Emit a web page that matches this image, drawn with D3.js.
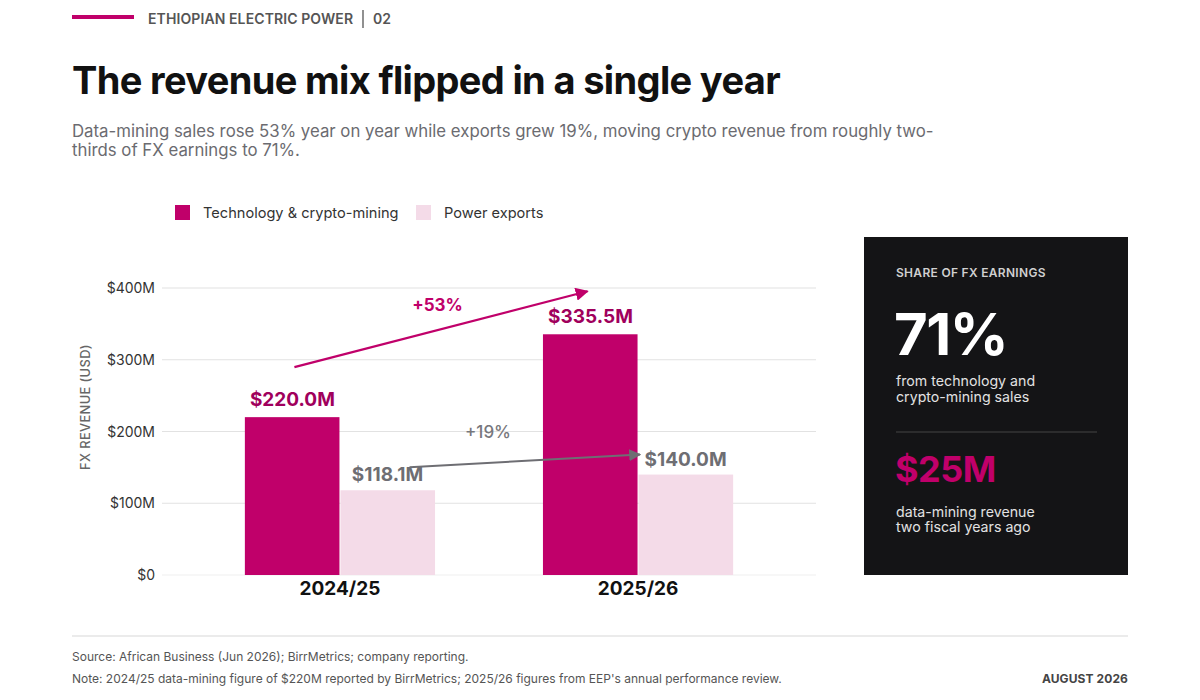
<!DOCTYPE html>
<html>
<head>
<meta charset="utf-8">
<script src="https://cdn.jsdelivr.net/npm/d3@7"></script>
<style>
    body { margin: 0; background: #fff; }
    svg { font-family: Inter, "Noto Sans", sans-serif; }
</style>
</head>
<body>
<script>
// chart data
var years = ["2024/25", "2025/26"];
var seriesNames = ["Technology & crypto-mining", "Power exports"];
var cryptoValues = [220.0, 335.5];
var exportValues = [118.1, 140.0];
var growthLabels = ["+53%", "+19%"];
var yTicks = [0, 100, 200, 300, 400];

var width = 1200;
var height = 700;
var magenta = "#c0006a";
var pink = "#f4dbe8";
var grey = "#6e6e73";

var svg = d3.select("body")
    .append("svg")
    .attr("width", width)
    .attr("height", height);

// header
svg.append("rect").attr("x", 72).attr("y", 15).attr("width", 62).attr("height", 4).attr("fill", magenta);
svg.append("text")
    .attr("x", 148).attr("y", 24)
    .attr("font-size", 14).attr("font-weight", 600).attr("fill", "#555")
    .attr("letter-spacing", 0.1)
    .text("ETHIOPIAN ELECTRIC POWER");
svg.append("line").attr("x1", 363).attr("x2", 363).attr("y1", 10).attr("y2", 28)
    .attr("stroke", "#555").attr("stroke-width", 1.3);
svg.append("text")
    .attr("x", 373).attr("y", 24)
    .attr("font-size", 14).attr("font-weight", 600).attr("fill", "#555")
    .text("02");

// title + subtitle
svg.append("text")
    .attr("x", 72).attr("y", 94)
    .attr("font-size", 38).attr("font-weight", 700).attr("fill", "#111")
    .attr("letter-spacing", -0.65)
    .text("The revenue mix flipped in a single year");

var sub = svg.append("text")
    .attr("font-size", 16.8).attr("fill", "#6b6b70");
sub.append("tspan").attr("x", 72).attr("y", 137)
    .text("Data-mining sales rose 53% year on year while exports grew 19%, moving crypto revenue from roughly two-");
sub.append("tspan").attr("x", 72).attr("y", 156)
    .text("thirds of FX earnings to 71%.");

// legend
var legendX = [175, 416];
var legendColors = [magenta, pink];
seriesNames.forEach(function(name, i) {
    svg.append("rect").attr("x", legendX[i]).attr("y", 205).attr("width", 15).attr("height", 15)
        .attr("fill", legendColors[i]);
    svg.append("text").attr("x", legendX[i] + 28).attr("y", 218)
        .attr("font-size", 14.6).attr("fill", "#333").text(name);
});

// scales
var x0 = d3.scaleBand()
    .domain(years)
    .range([162, 816])
    .paddingInner(0.362)
    .paddingOuter(0.278);

var x1 = d3.scaleBand()
    .domain(["crypto", "exports"])
    .range([0, x0.bandwidth()]);

var y = d3.scaleLinear()
    .domain([0, 400])
    .range([575, 288]);

// gridlines + y labels
var grid = svg.append("g");
grid.selectAll("line")
    .data(yTicks)
    .enter()
    .append("line")
    .attr("x1", 162).attr("x2", 816)
    .attr("y1", function(d) { return y(d); })
    .attr("y2", function(d) { return y(d); })
    .attr("stroke", function(d) { return d == 0 ? "#f0f0f0" : "#e2e2e2"; })
    .attr("stroke-width", 1.2);

grid.selectAll("text")
    .data(yTicks)
    .enter()
    .append("text")
    .attr("x", 155)
    .attr("y", function(d) { return y(d) + 5; })
    .attr("text-anchor", "end")
    .attr("font-size", 14).attr("fill", "#333")
    .text(function(d) { return d == 0 ? "$0" : "$" + d + "M"; });

svg.append("text")
    .attr("transform", "translate(90,407) rotate(-90)")
    .attr("text-anchor", "middle")
    .attr("font-size", 12.8).attr("font-weight", 500).attr("fill", "#666")
    .attr("letter-spacing", 0.4)
    .text("FX REVENUE (USD)");

// bars
var rows = years.map(function(yr, i) {
    return {year: yr, crypto: cryptoValues[i], exports: exportValues[i]};
});

var groups = svg.selectAll(".group")
    .data(rows)
    .enter()
    .append("g")
    .attr("class", "group")
    .attr("transform", function(d) { return "translate(" + x0(d.year) + ",0)"; });

groups.append("rect")
    .attr("x", x1("crypto"))
    .attr("width", x1.bandwidth() - 0.5)
    .attr("y", function(d) { return y(d.crypto); })
    .attr("height", function(d) { return y(0) - y(d.crypto); })
    .attr("fill", magenta);

groups.append("rect")
    .attr("x", x1("exports") + 0.5)
    .attr("width", x1.bandwidth() - 0.5)
    .attr("y", function(d) { return y(d.exports); })
    .attr("height", function(d) { return y(0) - y(d.exports); })
    .attr("fill", pink);

// value labels
groups.append("text")
    .attr("x", x1("crypto") + x1.bandwidth() / 2)
    .attr("y", function(d) { return y(d.crypto) - 11; })
    .attr("text-anchor", "middle")
    .attr("font-size", 19).attr("font-weight", 700).attr("fill", "#a0005c")
    .text(function(d) { return "$" + d.crypto.toFixed(1) + "M"; });

groups.append("text")
    .attr("x", x1("exports") + x1.bandwidth() / 2)
    .attr("y", function(d) { return y(d.exports) - 9; })
    .attr("text-anchor", "middle")
    .attr("font-size", 19).attr("font-weight", 700).attr("fill", grey)
    .text(function(d) { return "$" + d.exports.toFixed(1) + "M"; });

// x labels
svg.selectAll(".xlab")
    .data(years)
    .enter()
    .append("text")
    .attr("class", "xlab")
    .attr("x", function(d) { return x0(d) + x0.bandwidth() / 2; })
    .attr("y", 595)
    .attr("text-anchor", "middle")
    .attr("font-size", 19).attr("font-weight", 700).attr("fill", "#111")
    .text(function(d) { return d; });

// growth arrows
var defs = svg.append("defs");
function marker(id, color) {
    defs.append("marker")
        .attr("id", id)
        .attr("viewBox", "0 0 10 10")
        .attr("refX", 9).attr("refY", 5)
        .attr("markerWidth", 6).attr("markerHeight", 6)
        .attr("orient", "auto")
        .append("path")
        .attr("d", "M0,0 L10,5 L0,10 Z")
        .attr("fill", color);
}
marker("arrowMag", magenta);
marker("arrowGrey", grey);

var c0 = x0(years[0]) + x1("crypto") + x1.bandwidth() / 2;
var c1 = x0(years[1]) + x1("crypto") + x1.bandwidth() / 2;
svg.append("line")
    .attr("x1", c0 + 2).attr("y1", y(cryptoValues[0]) - 50)
    .attr("x2", c1 - 3).attr("y2", y(cryptoValues[1]) - 43)
    .attr("stroke", magenta).attr("stroke-width", 2.2)
    .attr("marker-end", "url(#arrowMag)");
svg.append("text")
    .attr("x", (c0 + c1) / 2 - 4).attr("y", 311)
    .attr("text-anchor", "middle")
    .attr("font-size", 17).attr("font-weight", 700).attr("fill", magenta)
    .text(growthLabels[0]);

var e0 = x0(years[0]) + x1("exports") + x1.bandwidth() / 2;
var e1 = x0(years[1]) + x1("exports");
svg.append("line")
    .attr("x1", e0 + 22).attr("y1", y(exportValues[0]) - 23)
    .attr("x2", e1 + 2).attr("y2", y(exportValues[1]) - 20)
    .attr("stroke", grey).attr("stroke-width", 2)
    .attr("marker-end", "url(#arrowGrey)");
svg.append("text")
    .attr("x", 488).attr("y", 438)
    .attr("text-anchor", "middle")
    .attr("font-size", 17).attr("font-weight", 500).attr("fill", "#77777c")
    .text(growthLabels[1]);

// side panel
var panel = svg.append("g");
panel.append("rect").attr("x", 864).attr("y", 237).attr("width", 264).attr("height", 338).attr("fill", "#141416");
panel.append("text").attr("x", 896).attr("y", 277)
    .attr("font-size", 12).attr("font-weight", 600).attr("fill", "#d0d0d0")
    .attr("letter-spacing", 0.3)
    .text("SHARE OF FX EARNINGS");
panel.append("text").attr("x", 894).attr("y", 355)
    .attr("font-size", 58).attr("font-weight", 700).attr("fill", "#fff")
    .attr("letter-spacing", -1.5)
    .text("71%");
var p1 = panel.append("text").attr("font-size", 14.2).attr("fill", "#e2e2e2");
p1.append("tspan").attr("x", 896).attr("y", 386).text("from technology and");
p1.append("tspan").attr("x", 896).attr("y", 402).text("crypto-mining sales");
panel.append("line").attr("x1", 896).attr("x2", 1097).attr("y1", 432).attr("y2", 432)
    .attr("stroke", "#444").attr("stroke-width", 1);
panel.append("text").attr("x", 895).attr("y", 482)
    .attr("font-size", 36).attr("font-weight", 700).attr("fill", magenta)
    .attr("letter-spacing", -0.5)
    .text("$25M");
var p2 = panel.append("text").attr("font-size", 14.2).attr("fill", "#e2e2e2");
p2.append("tspan").attr("x", 896).attr("y", 517).text("data-mining revenue");
p2.append("tspan").attr("x", 896).attr("y", 532).text("two fiscal years ago");

// footer
svg.append("line").attr("x1", 72).attr("x2", 1128).attr("y1", 636).attr("y2", 636)
    .attr("stroke", "#d8d8d8").attr("stroke-width", 1.2);
svg.append("text").attr("x", 72).attr("y", 661)
    .attr("font-size", 12).attr("fill", "#555")
    .text("Source: African Business (Jun 2026); BirrMetrics; company reporting.");
svg.append("text").attr("x", 72).attr("y", 683)
    .attr("font-size", 12).attr("fill", "#555")
    .text("Note: 2024/25 data-mining figure of $220M reported by BirrMetrics; 2025/26 figures from EEP's annual performance review.");
svg.append("text").attr("x", 1128).attr("y", 683)
    .attr("text-anchor", "end")
    .attr("font-size", 12).attr("font-weight", 700).attr("fill", "#444")
    .attr("letter-spacing", 0.1)
    .text("AUGUST 2026");
</script>
</body>
</html>
